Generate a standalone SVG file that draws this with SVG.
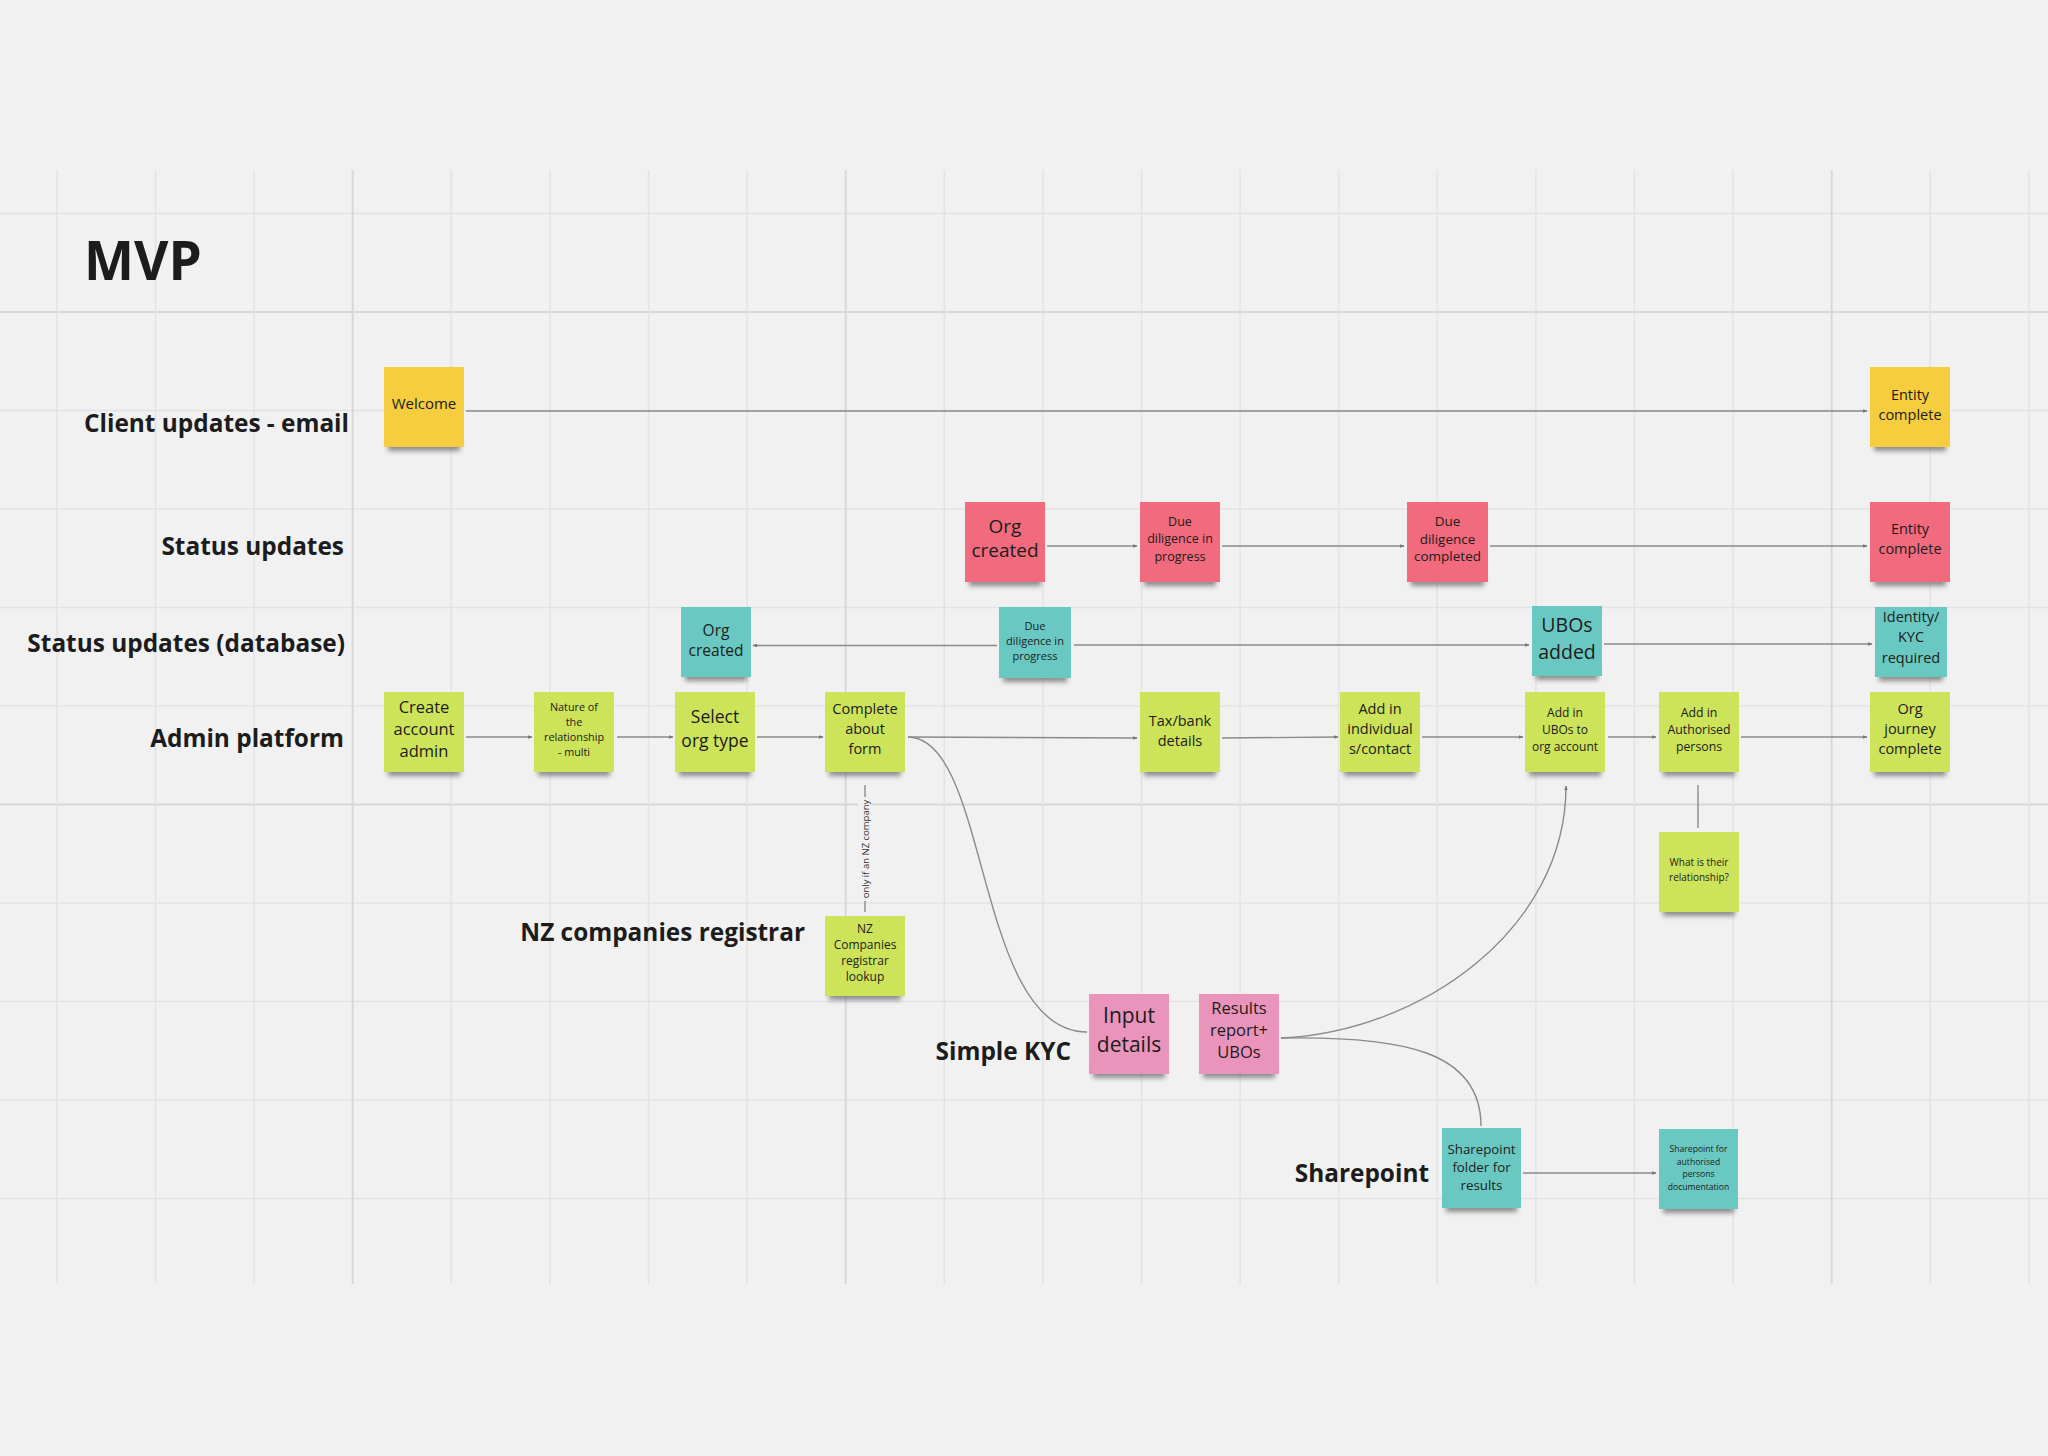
<svg xmlns="http://www.w3.org/2000/svg" width="2048" height="1456" viewBox="0 0 2048 1456">
<defs>
<style>
.bg{fill:#f1f1f1}
.g{stroke:#e3e3e3;stroke-width:1.5}
.gm{stroke:#d8d8d8;stroke-width:2}
.lbl{font-family:"Open Sans","Noto Sans","Liberation Sans",sans-serif;font-weight:700;font-size:24.4px;fill:#1c1c1c;text-anchor:end}
.title{font-family:"Open Sans","Noto Sans","Liberation Sans",sans-serif;font-weight:700;font-size:53px;fill:#1c1c1c}
.note text{font-family:"Open Sans","Noto Sans","Liberation Sans",sans-serif;fill:#1c1c1c;text-anchor:middle}
.sh{fill:#3a3a3a;opacity:.55;filter:url(#blur)}
.yellow{fill:#f5cd3e}
.red{fill:#f16a7d}
.teal{fill:#69c9c2}
.green{fill:#cde35a}
.pink{fill:#ea94bb}
.edge{stroke:#8a8a8a;stroke-width:1.4;fill:none}
.elbl{font-family:"Open Sans","Noto Sans","Liberation Sans",sans-serif;font-size:9.5px;fill:#333;text-anchor:middle}
</style>
<filter id="blur" x="-20%" y="-100%" width="140%" height="300%"><feGaussianBlur stdDeviation="2.5"/></filter>
<marker id="arr" viewBox="0 0 8 8" refX="7" refY="4" markerWidth="5" markerHeight="5" markerUnits="userSpaceOnUse" orient="auto-start-reverse"><path d="M0,1 L8,4 L0,7 z" fill="#777"/></marker>
</defs>
<rect class="bg" x="0" y="0" width="2048" height="1456"/>
<g id="grid">
<line class="g" x1="0" y1="213.5" x2="2048" y2="213.5"/>
<line class="gm" x1="0" y1="312" x2="2048" y2="312"/>
<line class="g" x1="0" y1="410.5" x2="2048" y2="410.5"/>
<line class="g" x1="0" y1="509" x2="2048" y2="509"/>
<line class="g" x1="0" y1="607.5" x2="2048" y2="607.5"/>
<line class="g" x1="0" y1="706" x2="2048" y2="706"/>
<line class="gm" x1="0" y1="804.5" x2="2048" y2="804.5"/>
<line class="g" x1="0" y1="903" x2="2048" y2="903"/>
<line class="g" x1="0" y1="1001.5" x2="2048" y2="1001.5"/>
<line class="g" x1="0" y1="1100" x2="2048" y2="1100"/>
<line class="g" x1="0" y1="1198.5" x2="2048" y2="1198.5"/>
<line class="g" x1="57" y1="170" x2="57" y2="1284"/>
<line class="g" x1="155.5" y1="170" x2="155.5" y2="1284"/>
<line class="g" x1="254" y1="170" x2="254" y2="1284"/>
<line class="gm" x1="352.7" y1="170" x2="352.7" y2="1284"/>
<line class="g" x1="451.3" y1="170" x2="451.3" y2="1284"/>
<line class="g" x1="549.9" y1="170" x2="549.9" y2="1284"/>
<line class="g" x1="648.5" y1="170" x2="648.5" y2="1284"/>
<line class="g" x1="747.1" y1="170" x2="747.1" y2="1284"/>
<line class="gm" x1="845.7" y1="170" x2="845.7" y2="1284"/>
<line class="g" x1="944.3" y1="170" x2="944.3" y2="1284"/>
<line class="g" x1="1042.9" y1="170" x2="1042.9" y2="1284"/>
<line class="g" x1="1141.5" y1="170" x2="1141.5" y2="1284"/>
<line class="g" x1="1240.1" y1="170" x2="1240.1" y2="1284"/>
<line class="g" x1="1338.7" y1="170" x2="1338.7" y2="1284"/>
<line class="g" x1="1437.3" y1="170" x2="1437.3" y2="1284"/>
<line class="g" x1="1535.9" y1="170" x2="1535.9" y2="1284"/>
<line class="g" x1="1634.5" y1="170" x2="1634.5" y2="1284"/>
<line class="g" x1="1733.1" y1="170" x2="1733.1" y2="1284"/>
<line class="gm" x1="1831.7" y1="170" x2="1831.7" y2="1284"/>
<line class="g" x1="1930.3" y1="170" x2="1930.3" y2="1284"/>
<line class="g" x1="2028.9" y1="170" x2="2028.9" y2="1284"/>
</g>
<g id="labels">
<text class="title" x="84" y="280">MVP</text>
<text class="lbl" x="349" y="432">Client updates - email</text>
<text class="lbl" x="344" y="555">Status updates</text>
<text class="lbl" x="345" y="652">Status updates (database)</text>
<text class="lbl" x="344" y="747">Admin platform</text>
<text class="lbl" x="805" y="941">NZ companies registrar</text>
<text class="lbl" x="1071" y="1060">Simple KYC</text>
<text class="lbl" x="1429" y="1182">Sharepoint</text>
</g>
<g id="connectors">
<line class="edge" x1="466" y1="411" x2="1867" y2="411" marker-end="url(#arr)"/>
<line class="edge" x1="1047" y1="546" x2="1137" y2="546" marker-end="url(#arr)"/>
<line class="edge" x1="1222" y1="546" x2="1404" y2="546" marker-end="url(#arr)"/>
<line class="edge" x1="1490" y1="546" x2="1867" y2="546" marker-end="url(#arr)"/>
<line class="edge" x1="997" y1="645.5" x2="753" y2="645.5" marker-end="url(#arr)"/>
<line class="edge" x1="1074" y1="645" x2="1529" y2="645" marker-end="url(#arr)"/>
<line class="edge" x1="1604" y1="644" x2="1872" y2="644" marker-end="url(#arr)"/>
<line class="edge" x1="466" y1="737" x2="532" y2="737" marker-end="url(#arr)"/>
<line class="edge" x1="617" y1="737" x2="673" y2="737" marker-end="url(#arr)"/>
<line class="edge" x1="757" y1="737" x2="823" y2="737" marker-end="url(#arr)"/>
<line class="edge" x1="908" y1="737" x2="1137" y2="738" marker-end="url(#arr)"/>
<line class="edge" x1="1222" y1="738" x2="1338" y2="737" marker-end="url(#arr)"/>
<line class="edge" x1="1422" y1="737" x2="1523" y2="737" marker-end="url(#arr)"/>
<line class="edge" x1="1608" y1="737" x2="1656" y2="737" marker-end="url(#arr)"/>
<line class="edge" x1="1741" y1="737" x2="1867" y2="737" marker-end="url(#arr)"/>
<line class="edge" x1="865" y1="785" x2="865" y2="912"/>
<rect x="858" y="797" width="14" height="104" fill="#f1f1f1"/>
<text class="elbl" transform="translate(868.5 849) rotate(-90)">only if an NZ company</text>
<path class="edge" d="M908 737 C990 737 975 1032 1087 1032"/>
<path class="edge" d="M1281 1038 C1420 1032 1566 930 1566 786" marker-end="url(#arr)"/>
<path class="edge" d="M1281 1038 C1400 1036 1481 1050 1481 1126"/>
<line class="edge" x1="1698" y1="785" x2="1698" y2="828"/>
<line class="edge" x1="1523" y1="1173" x2="1656" y2="1173" marker-end="url(#arr)"/>
</g>
<g id="n-welcome" class="note"><rect class="sh" x="388" y="440" width="72" height="11"/><rect class="yellow" x="384" y="367" width="80" height="80"/><text x="424" y="409" font-size="15">Welcome</text></g>
<g id="n-entity-email" class="note"><rect class="sh" x="1874" y="440" width="72" height="11"/><rect class="yellow" x="1870" y="367" width="80" height="80"/><text font-size="14.5"><tspan x="1910" y="400">Entity</tspan><tspan x="1910" y="420">complete</tspan></text></g>
<g id="n-org-created-status" class="note"><rect class="sh" x="969" y="575" width="72" height="11"/><rect class="red" x="965" y="502" width="80" height="80"/><text font-size="19"><tspan x="1005" y="533">Org</tspan><tspan x="1005" y="557">created</tspan></text></g>
<g id="n-dd-progress-status" class="note"><rect class="sh" x="1144" y="575" width="72" height="11"/><rect class="red" x="1140" y="502" width="80" height="80"/><text font-size="12.5"><tspan x="1180" y="525.5">Due</tspan><tspan x="1180" y="543">diligence in</tspan><tspan x="1180" y="560.5">progress</tspan></text></g>
<g id="n-dd-completed" class="note"><rect class="sh" x="1411" y="575" width="73" height="11"/><rect class="red" x="1407" y="502" width="81" height="80"/><text font-size="13.5"><tspan x="1447.5" y="526">Due</tspan><tspan x="1447.5" y="543.5">diligence</tspan><tspan x="1447.5" y="561">completed</tspan></text></g>
<g id="n-entity-status" class="note"><rect class="sh" x="1874" y="575" width="72" height="11"/><rect class="red" x="1870" y="502" width="80" height="80"/><text font-size="14.5"><tspan x="1910" y="534">Entity</tspan><tspan x="1910" y="554">complete</tspan></text></g>
<g id="n-org-created-db" class="note"><rect class="sh" x="685" y="670" width="62" height="11"/><rect class="teal" x="681" y="607" width="70" height="70"/><text font-size="15.5"><tspan x="716" y="635.5">Org</tspan><tspan x="716" y="655.5">created</tspan></text></g>
<g id="n-dd-progress-db" class="note"><rect class="sh" x="1003" y="671" width="64" height="11"/><rect class="teal" x="999" y="607" width="72" height="71"/><text font-size="11"><tspan x="1035" y="629.5">Due</tspan><tspan x="1035" y="644.5">diligence in</tspan><tspan x="1035" y="659.5">progress</tspan></text></g>
<g id="n-ubos-added" class="note"><rect class="sh" x="1536" y="669" width="62" height="11"/><rect class="teal" x="1532" y="606" width="70" height="70"/><text font-size="19.5"><tspan x="1567" y="632">UBOs</tspan><tspan x="1567" y="658.5">added</tspan></text></g>
<g id="n-identity-kyc" class="note"><rect class="sh" x="1879" y="670" width="64" height="11"/><rect class="teal" x="1875" y="607" width="72" height="70"/><text font-size="14.5"><tspan x="1911" y="621.5">Identity/</tspan><tspan x="1911" y="642">KYC</tspan><tspan x="1911" y="662.5">required</tspan></text></g>
<g id="n-create-account" class="note"><rect class="sh" x="388" y="765" width="72" height="11"/><rect class="green" x="384" y="692" width="80" height="80"/><text font-size="16.5"><tspan x="424" y="712.5">Create</tspan><tspan x="424" y="734.5">account</tspan><tspan x="424" y="756.5">admin</tspan></text></g>
<g id="n-nature" class="note"><rect class="sh" x="538" y="765" width="72" height="11"/><rect class="green" x="534" y="692" width="80" height="80"/><text font-size="10.8"><tspan x="574" y="710.5">Nature of</tspan><tspan x="574" y="725.5">the</tspan><tspan x="574" y="740.5">relationship</tspan><tspan x="574" y="755.5">- multi</tspan></text></g>
<g id="n-select-org" class="note"><rect class="sh" x="679" y="765" width="72" height="11"/><rect class="green" x="675" y="692" width="80" height="80"/><text font-size="17.5"><tspan x="715" y="723">Select</tspan><tspan x="715" y="747">org type</tspan></text></g>
<g id="n-complete-about" class="note"><rect class="sh" x="829" y="765" width="72" height="11"/><rect class="green" x="825" y="692" width="80" height="80"/><text font-size="14.5"><tspan x="865" y="714">Complete</tspan><tspan x="865" y="734">about</tspan><tspan x="865" y="754">form</tspan></text></g>
<g id="n-tax-bank" class="note"><rect class="sh" x="1144" y="765" width="72" height="11"/><rect class="green" x="1140" y="692" width="80" height="80"/><text font-size="14.5"><tspan x="1180" y="726">Tax/bank</tspan><tspan x="1180" y="746">details</tspan></text></g>
<g id="n-add-individual" class="note"><rect class="sh" x="1344" y="765" width="72" height="11"/><rect class="green" x="1340" y="692" width="80" height="80"/><text font-size="14.5"><tspan x="1380" y="714">Add in</tspan><tspan x="1380" y="734">individual</tspan><tspan x="1380" y="754">s/contact</tspan></text></g>
<g id="n-add-ubos" class="note"><rect class="sh" x="1529" y="765" width="72" height="11"/><rect class="green" x="1525" y="692" width="80" height="80"/><text font-size="12"><tspan x="1565" y="717">Add in</tspan><tspan x="1565" y="734">UBOs to</tspan><tspan x="1565" y="751">org account</tspan></text></g>
<g id="n-add-authorised" class="note"><rect class="sh" x="1663" y="765" width="72" height="11"/><rect class="green" x="1659" y="692" width="80" height="80"/><text font-size="12.3"><tspan x="1699" y="717">Add in</tspan><tspan x="1699" y="734">Authorised</tspan><tspan x="1699" y="751">persons</tspan></text></g>
<g id="n-org-journey" class="note"><rect class="sh" x="1874" y="765" width="72" height="11"/><rect class="green" x="1870" y="692" width="80" height="80"/><text font-size="14.5"><tspan x="1910" y="714">Org</tspan><tspan x="1910" y="734">journey</tspan><tspan x="1910" y="754">complete</tspan></text></g>
<g id="n-what-relationship" class="note"><rect class="sh" x="1663" y="905" width="72" height="11"/><rect class="green" x="1659" y="832" width="80" height="80"/><text font-size="10"><tspan x="1699" y="866">What is their</tspan><tspan x="1699" y="881">relationship?</tspan></text></g>
<g id="n-nz-lookup" class="note"><rect class="sh" x="829" y="989" width="72" height="11"/><rect class="green" x="825" y="916" width="80" height="80"/><text font-size="12"><tspan x="865" y="932.5">NZ</tspan><tspan x="865" y="949">Companies</tspan><tspan x="865" y="965">registrar</tspan><tspan x="865" y="981">lookup</tspan></text></g>
<g id="n-input-details" class="note"><rect class="sh" x="1093" y="1067" width="72" height="11"/><rect class="pink" x="1089" y="994" width="80" height="80"/><text font-size="21"><tspan x="1129" y="1023">Input</tspan><tspan x="1129" y="1052">details</tspan></text></g>
<g id="n-results" class="note"><rect class="sh" x="1203" y="1067" width="72" height="11"/><rect class="pink" x="1199" y="994" width="80" height="80"/><text font-size="16.5"><tspan x="1239" y="1014">Results</tspan><tspan x="1239" y="1036">report+</tspan><tspan x="1239" y="1058">UBOs</tspan></text></g>
<g id="n-sp-folder" class="note"><rect class="sh" x="1446" y="1201" width="71" height="11"/><rect class="teal" x="1442" y="1128" width="79" height="80"/><text font-size="13.3"><tspan x="1481.5" y="1153.5">Sharepoint</tspan><tspan x="1481.5" y="1171.5">folder for</tspan><tspan x="1481.5" y="1189.5">results</tspan></text></g>
<g id="n-sp-authorised" class="note"><rect class="sh" x="1663" y="1202" width="71" height="11"/><rect class="teal" x="1659" y="1129" width="79" height="80"/><text font-size="8.6"><tspan x="1698.5" y="1152">Sharepoint for</tspan><tspan x="1698.5" y="1164.5">authorised</tspan><tspan x="1698.5" y="1177">persons</tspan><tspan x="1698.5" y="1189.5">documentation</tspan></text></g>
</svg>
